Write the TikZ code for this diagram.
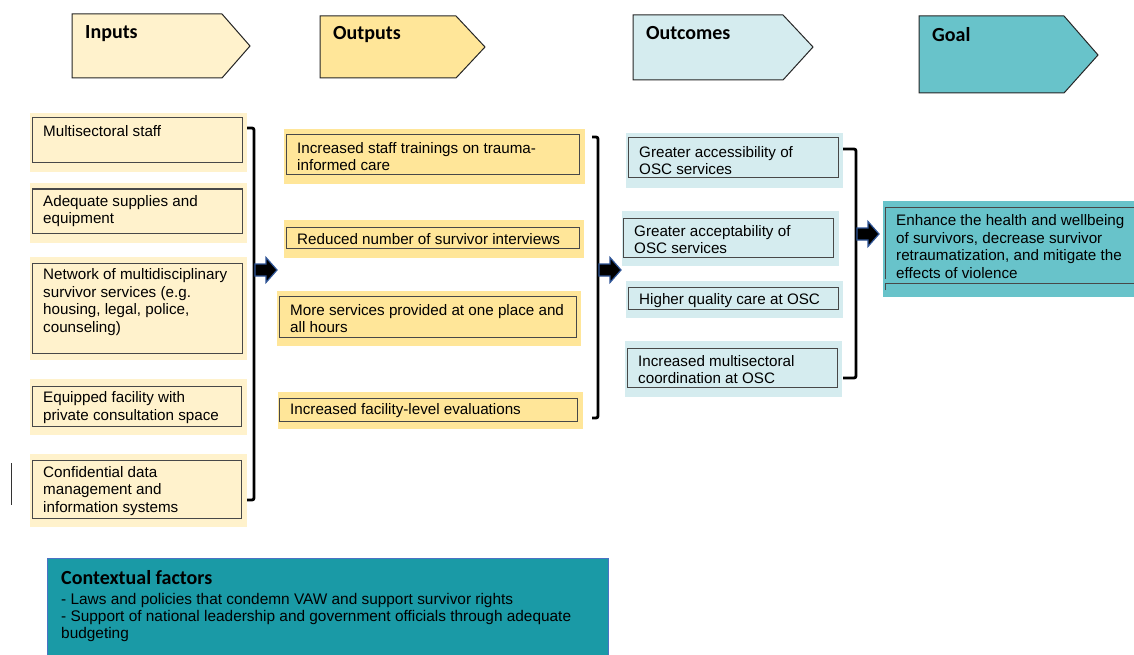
\documentclass[tikz,border=0pt]{standalone}
\usepackage{fontspec}
\setmainfont{Liberation Sans}
\newfontfamily\hdrfont{Carlito}
\definecolor{cream}{HTML}{FFF2CC}
\definecolor{yel}{HTML}{FFE699}
\definecolor{lcyan}{HTML}{D5ECEF}
\definecolor{goalc}{HTML}{68C3CA}
\definecolor{ctxc}{HTML}{1A9AA6}
\definecolor{ctxb}{HTML}{4A72C4}
\definecolor{navy}{HTML}{2F5597}
\definecolor{boxb}{HTML}{484848}
\tikzset{
 hdr/.style={draw=black!85, line width=1pt},
 ibox/.style={draw=boxb, line width=1pt},
 txt/.style={anchor=west, align=left, inner sep=0pt, yshift=-1.5pt, font=\fontsize{15.2}{17.7}\selectfont},
 htxt/.style={anchor=west, inner sep=0pt, font=\hdrfont\bfseries\fontsize{20}{24}\selectfont},
 brk/.style={draw=black, line width=2.8pt, rounded corners=2pt},
 barrow/.style={fill=black, draw=navy, line width=1.2pt, line join=miter}
}
\newcommand\blkarrow[2]{%
 \draw[barrow] (#1,{#2-6}) -- ({#1+11},{#2-6}) -- ({#1+11},{#2-12.5}) -- ({#1+22},#2)
   -- ({#1+11},{#2+12.5}) -- ({#1+11},{#2+6}) -- (#1,{#2+6}) -- cycle;}
\begin{document}
\begin{tikzpicture}[x=1pt,y=-1pt]
\useasboundingbox (0,0) rectangle (1134,655);
% headers
\draw[hdr, fill=cream] (72,14) -- (222,14) -- (250,46) -- (222,78) -- (72,78) -- cycle;
\node[htxt] (hin) at (85,34) {Inputs};
\draw[hdr, fill=yel] (320,16) -- (456,16) -- (485,47) -- (456,78) -- (320,78) -- cycle;
\node[htxt] (hout) at (333,35) {Outputs};
\draw[hdr, fill=lcyan] (633,15) -- (783,15) -- (813,47) -- (783,80) -- (633,80) -- cycle;
\node[htxt] (hoc) at (646,33.5) {Outcomes};
\draw[hdr, fill=goalc] (919,16) -- (1064,16) -- (1098,55) -- (1064,93) -- (919,93) -- cycle;
\node[htxt] (hgoal) at (932,35) {Goal};
% inputs
\fill[cream] (30,113) rectangle (247,172);
\draw[ibox] (32,118) rectangle (242,163);
\node[txt] (in1) at (43,130) {Multisectoral staff};
\fill[cream] (30,183) rectangle (247,243);
\draw[ibox] (32,189) rectangle (242,233);
\node[txt] (in2) at (43,209.5) {Adequate supplies and\\equipment};
\fill[cream] (30,257) rectangle (247,360);
\draw[ibox] (32,263) rectangle (242,353);
\node[txt] (in3) at (43,300.5) {Network of multidisciplinary\\survivor services (e.g.\\housing, legal, police,\\counseling)};
\fill[cream] (30,379) rectangle (247,435);
\draw[ibox] (32,386) rectangle (241,426);
\node[txt] (in4) at (43,406) {Equipped facility with\\private consultation space};
\fill[cream] (30,454) rectangle (247,527);
\draw[ibox] (32,460) rectangle (241,518);
\node[txt] (in5) at (43,489.5) {Confidential data\\management and\\information systems};
\draw[line width=1pt, black!80] (11,463) -- (11,505);
% bracket 1
\draw[brk] (247,128) -- (254,128) -- (254,500) -- (247,500);
\blkarrow{255}{270}
% outputs
\fill[yel] (284,129) rectangle (585,184);
\draw[ibox] (286,135) rectangle (579,175);
\node[txt] (out1) at (297,155) {Increased staff trainings on trauma-\\informed care};
\fill[yel] (284,220) rectangle (584,258);
\draw[ibox] (286,227) rectangle (579,248);
\node[txt] (out2) at (297,238) {Reduced number of survivor interviews};
\fill[yel] (277,291) rectangle (581,346);
\draw[ibox] (279,296) rectangle (576,337);
\node[txt] (out3) at (290,317) {More services provided at one place and\\all hours};
\fill[yel] (278,392) rectangle (583,429);
\draw[ibox] (279,398) rectangle (577,421);
\node[txt] (out4) at (290,409) {Increased facility-level evaluations};
% bracket 2
\draw[brk] (592,137) -- (598,137) -- (598,418) -- (592,418);
\blkarrow{599}{270}
% outcomes
\fill[lcyan] (626,133) rectangle (843,188);
\draw[ibox] (628,138) rectangle (838,178);
\node[txt] (oc1) at (639,159) {Greater accessibility of\\OSC services};
\fill[lcyan] (622,211) rectangle (839,266);
\draw[ibox] (623,218) rectangle (833,257);
\node[txt] (oc2) at (634,238) {Greater acceptability of\\OSC services};
\fill[lcyan] (626,281) rectangle (843,318);
\draw[ibox] (628,287) rectangle (838,309);
\node[txt] (oc3) at (639,299) {Higher quality care at OSC};
\fill[lcyan] (625,341) rectangle (842,397);
\draw[ibox] (627,348) rectangle (837,387);
\node[txt] (oc4) at (638,368) {Increased multisectoral\\coordination at OSC};
% bracket 3
\draw[brk] (843,149) -- (856,149) -- (856,378) -- (843,378);
\blkarrow{857}{234}
% goal
\fill[goalc] (883,201) rectangle (1140,297);
\draw[ibox] (1140,207) -- (885,207) -- (885,279);
\draw[ibox] (885,290) -- (885,283) -- (1140,283);
\node[txt] (goal) at (896,245) {Enhance the health and wellbeing\\of survivors, decrease survivor\\retraumatization, and mitigate the\\effects of violence};
% contextual factors
\draw[draw=ctxb, fill=ctxc, line width=1pt] (47,558) rectangle (608,668);
\node[htxt] (ctxt) at (61,578) {Contextual factors};
\node[txt, font=\fontsize{15.4}{17}\selectfont] (ctx) at (61,616.5) {- Laws and policies that condemn VAW and support survivor rights\\- Support of national leadership and government officials through adequate\\budgeting};
\end{tikzpicture}
\end{document}
